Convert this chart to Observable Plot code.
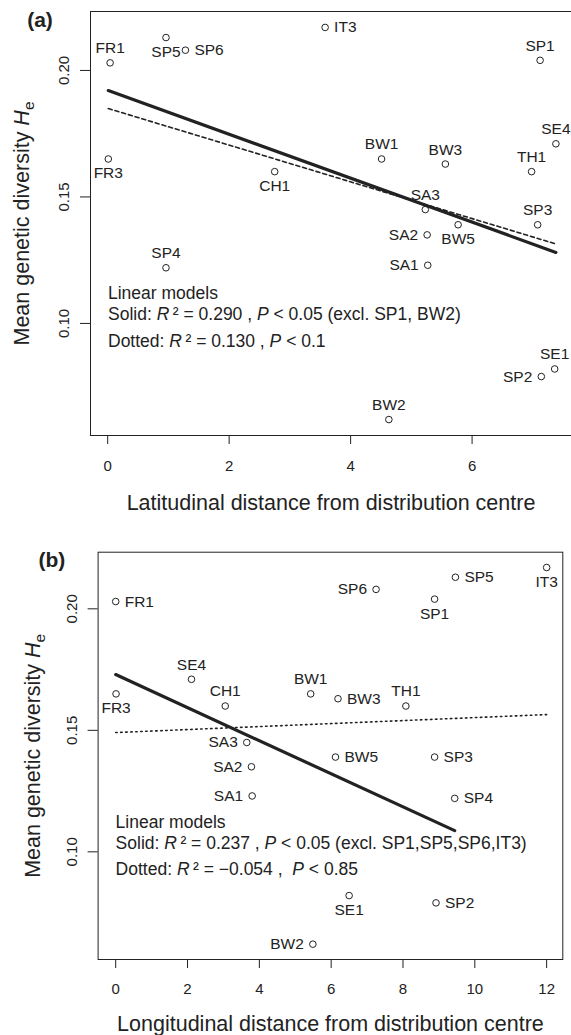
<!DOCTYPE html>
<html><head><meta charset="utf-8">
<script src="https://cdn.jsdelivr.net/npm/d3@7"></script>
<script src="https://cdn.jsdelivr.net/npm/@observablehq/plot@0.6"></script>
<style>body{margin:0;background:#fff;} svg{display:block;}</style>
</head><body><div id="chart"></div>
<script>
// ---- data ----
const sites   = ["FR1","SP5","SP6","IT3","SP1","SE4","BW1","BW3","TH1","FR3","CH1","SA3","SP3","BW5","SA2","SP4","SA1","SE1","SP2","BW2"];
const He      = [0.203,0.213,0.208,0.217,0.204,0.171,0.165,0.163,0.160,0.165,0.160,0.145,0.139,0.139,0.135,0.122,0.123,0.082,0.079,0.062];
const latDist = [0.04,0.96,1.28,3.58,7.12,7.38,4.51,5.56,6.98,0.01,2.75,5.23,7.08,5.77,5.26,0.96,5.27,7.36,7.14,4.63];
const lonDist = [0.00,9.46,7.25,12.0,8.88,2.11,5.43,6.19,8.08,0.01,3.05,3.65,8.88,6.12,3.78,9.44,3.80,6.50,8.92,5.49];
const latLabelPos = ["top","bottom","right","right","top","top","top","top","top","bottom","bottom","top","top","bottom","left","top","left","top","left","top"];
const lonLabelPos = ["right","right","left","bottom","bottom","top","top","right","top","bottom","top","left","right","right","left","right","left","bottom","right","left"];
const latExcluded = ["SP1","BW2"];
const lonExcluded = ["SP1","SP5","SP6","IT3"];
const xTicksLat = [0,2,4,6];
const xTicksLon = [0,2,4,6,8,10,12];
const yTicks = [0.10,0.15,0.20];
const latLegend = ["Linear models", "Solid: *R*\u2009\u00b2 = 0.290 , *P* < 0.05 (excl. SP1, BW2)", "Dotted: *R*\u2009\u00b2 = 0.130 , *P* < 0.1"];
const lonLegend = ["Linear models", "Solid: *R*\u2009\u00b2 = 0.237 , *P* < 0.05 (excl. SP1,SP5,SP6,IT3)", "Dotted: *R*\u2009\u00b2 = \u22120.054 ,\u00a0 *P* < 0.85"];
const yTitle = "Mean genetic diversity *H*_e";
const latTitle = "Latitudinal distance from distribution centre";
const lonTitle = "Longitudinal distance from distribution centre";

const font = '"Liberation Sans", Arial, Helvetica, sans-serif';
const ink = "#222";
const svgNS = "http://www.w3.org/2000/svg";

function richify(svg) {
  svg.querySelectorAll("text").forEach(el => {
    const s = el.textContent;
    if (!/\*|_[a-z]/.test(s)) return;
    el.textContent = "";
    for (const p of s.split(/(\*[^*]+\*|_[a-z])/)) {
      if (!p) continue;
      const ts = document.createElementNS(svgNS, "tspan");
      if (p.startsWith("*")) { ts.setAttribute("font-style", "italic"); ts.textContent = p.slice(1, -1); }
      else if (p.startsWith("_")) { ts.setAttribute("font-size", "0.72em"); ts.setAttribute("dy", "0.3em"); ts.textContent = p.slice(1); }
      else ts.textContent = p;
      el.appendChild(ts);
    }
  });
}

const off = {top: [0, -14.5, "middle"], bottom: [0, 14.5, "middle"], left: [-9, 0, "end"], right: [9, 0, "start"]};

function panel(o) {
  const data = sites.map((s, i) => ({site: s, He: He[i], x: o.xs[i], pos: o.pos[i]}));
  const sub = data.filter(d => !o.excluded.includes(d.site));
  const marks = [];
  if (o.fullFrame) marks.push(Plot.frame({stroke: ink}));
  else for (const a of ["top", "left", "bottom"]) marks.push(Plot.frame({anchor: a, stroke: ink}));
  marks.push(
    Plot.axisX({ticks: o.xTicks, tickSize: 9, tickPadding: o.tickPad, fontSize: 15, color: ink, label: null, tickFormat: d => String(d)}),
    Plot.axisY({ticks: yTicks, tickSize: 10, color: ink, label: null, tickFormat: () => ""}),
    Plot.text(yTicks, {y: d => d, text: d => d.toFixed(2), frameAnchor: "left", dx: -26, rotate: -90, textAnchor: "middle", lineAnchor: "middle", fontSize: 15, fill: ink}),
    Plot.linearRegressionY(data, {x: "x", y: "He", ci: 0, stroke: ink, strokeWidth: 1.6, strokeDasharray: o.dash}),
    Plot.linearRegressionY(sub, {x: "x", y: "He", ci: 0, stroke: ink, strokeWidth: 3.2}),
    Plot.dot(data, {x: "x", y: "He", r: 3.3, stroke: ink, strokeWidth: 1, fill: "none"})
  );
  for (const k of Object.keys(off)) {
    marks.push(Plot.text(data.filter(d => d.pos === k), {x: "x", y: "He", text: "site", dx: off[k][0], dy: off[k][1], textAnchor: off[k][2], lineAnchor: "middle", fontSize: 15.5, fill: ink}));
  }
  o.legend.forEach((line, i) => {
    marks.push(Plot.text([line], {text: d => d, frameAnchor: "top-left", dx: 17.5, dy: o.legendDy[i], textAnchor: "start", lineAnchor: "middle", fontSize: 17.5, fill: ink}));
  });
  marks.push(
    Plot.text([o.tag], {text: d => d, frameAnchor: "top-left", dx: o.tagDx, dy: o.tagDy, textAnchor: "start", lineAnchor: "middle", fontSize: 21, fontWeight: "bold", fill: ink}),
    Plot.text([o.xTitle], {text: d => d, frameAnchor: "bottom", dy: o.titleDy, textAnchor: "middle", lineAnchor: "middle", fontSize: 21.5, fill: ink}),
    Plot.text([yTitle], {text: d => d, frameAnchor: "left", dx: o.yTitleDx, rotate: -90, textAnchor: "middle", lineAnchor: "middle", fontSize: 21.5, fill: ink})
  );
  const svg = Plot.plot({
    width: 571, height: o.height,
    marginLeft: o.ml, marginRight: o.mr, marginTop: o.mt, marginBottom: o.mb,
    x: {domain: o.xDomain, axis: null},
    y: {domain: [0.0557, 0.2233], axis: null},
    style: {fontFamily: font, background: "white", color: ink, overflow: "visible"},
    marks
  });
  richify(svg);
  return svg;
}

const chart = document.getElementById("chart");
chart.appendChild(panel({
  xs: latDist, pos: latLabelPos, excluded: latExcluded, xTicks: xTicksLat, tickPad: 16,
  xDomain: [-0.283, 7.637], height: 520, ml: 90, mr: 0, mt: 11, mb: 85, fullFrame: false,
  dash: "4,3", legend: latLegend, legendDy: [281.7, 303, 329.7],
  tag: "(a)", tagDx: -63.3, tagDy: 8.3, xTitle: latTitle, titleDy: 68, yTitleDx: -68.5
}));
chart.appendChild(panel({
  xs: lonDist, pos: lonLabelPos, excluded: lonExcluded, xTicks: xTicksLon, tickPad: 15,
  xDomain: [-0.49, 12.45], height: 515, ml: 97.6, mr: 8.7, mt: 31.7, mb: 76, fullFrame: true,
  dash: "1.5,3.5", legend: lonLegend, legendDy: [270.3, 291.6, 317.3],
  tag: "(b)", tagDx: -59.6, tagDy: 7.6, xTitle: lonTitle, titleDy: 64.8, yTitleDx: -65
}));
</script></body></html>
